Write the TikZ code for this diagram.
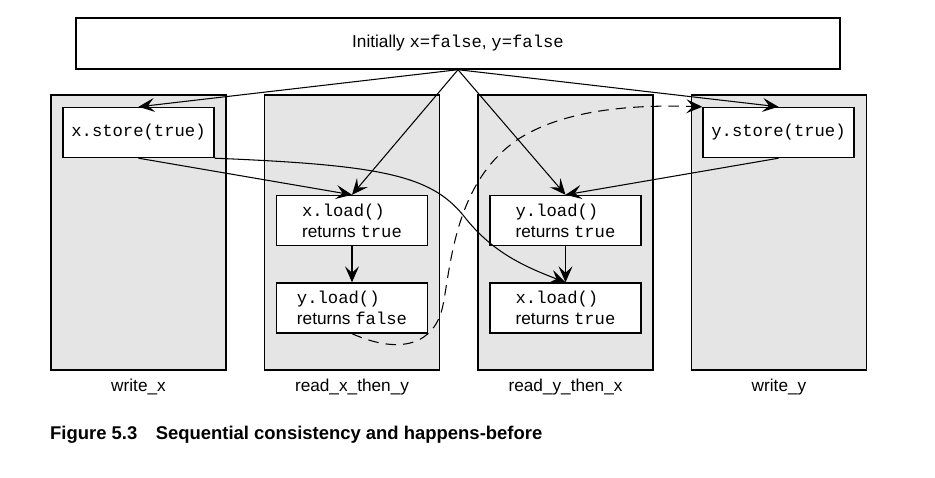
\documentclass[tikz,border=0pt]{standalone}
\usepackage{fontspec}
\setmainfont{Liberation Sans}
\setmonofont{Liberation Mono}
\usetikzlibrary{arrows.meta,positioning}

\begin{document}
\begin{tikzpicture}[x=0.02cm, y=-0.02cm,
    every node/.style={font=\fontsize{9.8pt}{12pt}\selectfont},
    thread/.style={draw, line width=0.8pt, fill=black!10,
      minimum width=3.5cm, minimum height=5.5cm},
    opbox/.style={draw, line width=0.8pt, fill=white,
      minimum width=3.02cm, minimum height=1cm, align=left},
    flow/.style={-{Stealth[length=3.2mm, width=2.8mm, inset=1.3mm]},
      line width=0.6pt}]
    \useasboundingbox (0,0) rectangle (935,477);

    % Initial state
    \node[draw, line width=0.8pt, minimum width=15.28cm, minimum height=1.02cm]
      (init) at (458,43.5) {Initially \texttt{x=false}, \texttt{y=false}};

    % Threads
    \node[thread] (writex) at (138.5,232.5) {};
    \node[below=1pt of writex] (lwritex) {write\_x};
    \node[thread] (readxy) at (352,232.5) {};
    \node[below=1pt of readxy] (lreadxy) {read\_x\_then\_y};
    \node[thread] (readyx) at (565.5,232.5) {};
    \node[below=1pt of readyx] (lreadyx) {read\_y\_then\_x};
    \node[thread] (writey) at (779,232.5) {};
    \node[below=1pt of writey] (lwritey) {write\_y};

    % Operations
    \node[opbox] (xstore) at (138.5,132.5) {\texttt{x.store(true)}};
    \node[opbox] (xloadA) at (352,220.5) {\texttt{x.load()}\\returns \texttt{true}};
    \node[opbox] (yloadA) at (352,308) {\texttt{y.load()}\\returns \texttt{false}};
    \node[opbox] (yloadB) at (565.5,220.5) {\texttt{y.load()}\\returns \texttt{true}};
    \node[opbox] (xloadB) at (565.5,308) {\texttt{x.load()}\\returns \texttt{true}};
    \node[opbox] (ystore) at (778.5,132.5) {\texttt{y.store(true)}};

    % Happens-before
    \coordinate (apex) at (init.south);
    \draw[flow] (apex) -- (xstore.north);
    \draw[flow] (apex) -- (xloadA.north);
    \draw[flow] (apex) -- (yloadB.north);
    \draw[flow] (apex) -- (ystore.north);
    \draw[flow] (xstore.south) -- (xloadA.north);
    \draw[flow] (ystore.south) -- (yloadB.north);
    \draw[flow] (xloadA) -- (yloadA);
    \draw[flow] (yloadB) -- (xloadB);
    \draw[flow] (xstore.south east)
      .. controls (380,165) and (430,175) .. (463,215)
      .. controls (490,250) and (520,265) .. (xloadB.north);

    % y read as false
    \draw[flow, dash pattern=on 6pt off 4pt] (yloadA.south)
      .. controls (400,355) and (435,345) .. (443,305)
      .. controls (451,265) and (455,180) .. (520,138)
      .. controls (560,113) and (620,104) .. (ystore.north west);

    % Caption
    \node[anchor=base west, font=\bfseries\fontsize{10.5pt}{12pt}\selectfont]
      (caption) at (44,439)
      {Figure 5.3\hspace{1em}Sequential consistency and happens-before};
  \end{tikzpicture}
\end{document}
